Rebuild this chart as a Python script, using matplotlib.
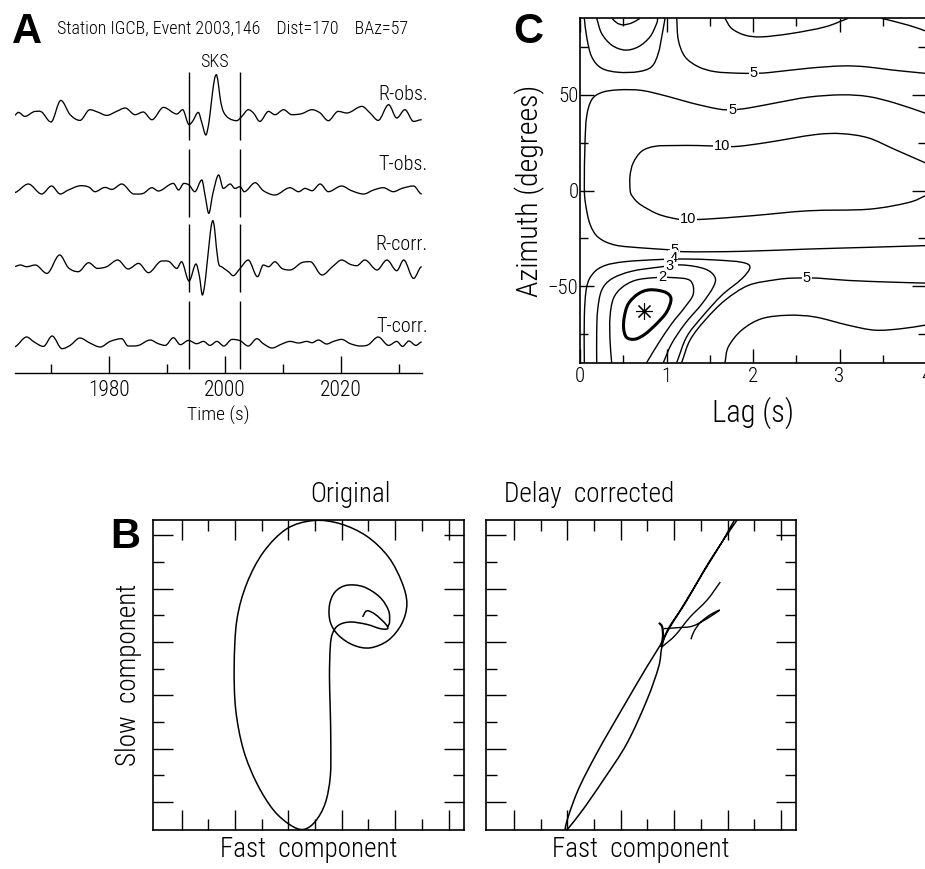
import numpy as np
import matplotlib.pyplot as plt
from matplotlib.ticker import FixedLocator
from matplotlib.path import Path
from matplotlib.patches import PathPatch

plt.rcParams['font.family'] = ['Roboto Condensed', 'DejaVu Sans']
plt.rcParams['font.weight'] = 'light'
plt.rcParams['axes.labelweight'] = 'light'

# ---------------- panel A: waveforms (time s, amplitude arbitrary) ----------------
r_obs_t = [1963.6, 1964.4, 1965.5, 1967.3, 1968.4, 1970.0, 1971.7, 1973.3, 1975.0, 1976.7,
           1978.2, 1979.6, 1981.3, 1982.8, 1984.5, 1985.9, 1987.4, 1989.4, 1991.7, 1992.7,
           1993.8, 1994.4, 1995.4, 1996.0, 1996.7, 1997.1, 1997.4, 1997.8, 1998.2, 1998.5,
           1998.8, 1999.2, 1999.7, 2000.6, 2002.0, 2002.9, 2004.0, 2004.9, 2006.0, 2007.5,
           2008.6, 2010.1, 2011.5, 2013.2, 2015.0, 2016.4, 2017.8, 2019.5, 2021.0, 2023.6,
           2025.0, 2026.4, 2028.2, 2029.6, 2031.0, 2032.5, 2033.9]
r_obs_a = [-1.0, 2.3, -1.7, 3.3, 2.7, -7.3, 14.3, 0.0, -5.7, 5.0,
           2.3, -0.7, 3.3, 6.7, 0.0, 2.7, -5.0, 7.3, 0.7, 5.0,
           -10.0, -6.7, 2.3, -8.0, -20.3, -12.0, 0.0, 20.0, 36.0, 40.0,
           33.0, 15.0, 3.3, -3.3, -6.0, -1.7, 5.0, 1.7, -6.7, 3.3,
           0.0, 5.0, 0.0, 1.0, 5.0, 1.7, -6.0, 3.3, 1.7, 8.3,
           1.7, -5.7, 10.0, -3.3, 5.0, -6.7, -5.0]

t_obs_t = [1963.6, 1966.1, 1968.4, 1970.1, 1971.6, 1973.0, 1975.2, 1976.5, 1977.6, 1979.3,
           1980.5, 1982.2, 1984.3, 1985.9, 1987.4, 1988.5, 1991.1, 1992.0, 1992.9, 1993.8,
           1994.8, 1996.0, 1996.6, 1997.2, 1997.9, 1998.9, 1999.7, 2000.9, 2001.7, 2002.6,
           2003.3, 2005.2, 2006.6, 2008.6, 2011.2, 2012.7, 2013.8, 2015.0, 2016.4, 2017.8,
           2020.1, 2021.8, 2023.9, 2025.6, 2027.3, 2029.0, 2030.5, 2032.5, 2033.9]
t_obs_a = [-1.0, 7.7, -2.3, 5.7, -2.3, 1.7, 6.0, 4.7, 0.0, 4.3,
           2.3, 7.7, -2.3, -1.7, 4.0, 0.7, 8.3, 1.7, 8.3, 6.7,
           0.0, 11.7, -5.0, -21.7, -2.0, 16.7, 3.3, 7.7, 3.3, 5.0,
           0.0, 9.0, 1.0, -3.3, 4.0, 0.0, 3.3, 1.0, 7.7, 0.0,
           5.7, 1.0, -2.3, 1.7, 4.0, 0.0, 3.3, 5.7, -2.3]

r_corr_t = [1963.6, 1964.7, 1965.8, 1967.3, 1969.3, 1971.5, 1973.0, 1974.7, 1976.5, 1978.0,
            1979.6, 1981.5, 1983.3, 1985.1, 1986.8, 1989.1, 1990.4, 1991.7, 1992.5, 1993.8,
            1995.0, 1995.6, 1996.1, 1996.5, 1996.85, 1997.3, 1997.6, 1997.9, 1998.2, 1998.5,
            1998.9, 1999.4, 2000.6, 2001.4, 2002.6, 2004.0, 2005.6, 2006.6, 2007.5, 2008.6,
            2009.8, 2011.2, 2013.2, 2014.7, 2016.7, 2018.7, 2020.1, 2021.6, 2022.7, 2024.1,
            2026.2, 2027.9, 2029.6, 2030.8, 2032.5, 2033.9]
r_corr_a = [0.0, 1.7, 0.0, 1.7, -6.7, 11.7, -1.0, -5.0, 4.0, -1.7,
            0.0, 6.7, -2.3, 3.3, -6.0, 5.7, 5.0, -1.7, 5.0, -14.3,
            2.7, -10.0, -28.3, -18.0, 0.0, 25.0, 40.0, 46.0, 38.0, 20.0,
            3.0, 0.0, -5.0, -9.0, -1.7, 6.7, -10.0, 1.7, 0.0, 5.0,
            -1.7, -3.3, 4.0, 5.0, -8.3, 1.0, 6.7, 2.3, 1.0, 6.7,
            -3.3, 6.7, -4.0, 6.7, -11.7, 0.0]

t_corr_t = [1963.6, 1965.8, 1967.1, 1968.7, 1970.2, 1971.9, 1973.3, 1975.0, 1976.7, 1978.5,
            1980.2, 1982.2, 1983.3, 1985.1, 1987.1, 1988.5, 1989.7, 1991.1, 1992.3, 1993.7,
            1995.1, 1996.3, 1997.4, 1998.6, 1999.8, 2001.2, 2002.6, 2004.0, 2005.5, 2006.6,
            2008.1, 2009.8, 2011.2, 2012.7, 2014.1, 2015.0, 2016.1, 2017.5, 2018.7, 2020.1,
            2021.6, 2023.3, 2024.7, 2026.4, 2028.2, 2029.6, 2030.6, 2031.7, 2032.9, 2033.9]
t_corr_a = [-3.3, 6.7, 1.7, -2.7, 7.7, -5.0, -1.7, 5.7, 0.7, -3.3,
            2.3, 5.0, -2.3, -1.7, 3.7, 0.0, -1.7, 6.0, -1.0, 3.3,
            0.0, 2.3, -1.7, 2.3, -2.3, 4.3, 3.0, -2.3, 5.0, 0.0,
            -4.3, -0.3, 2.3, 0.7, 2.3, 1.0, 3.7, -0.3, 2.3, 4.3,
            0.0, -2.3, -1.0, 6.7, -1.7, 2.3, -2.7, 2.7, -1.7, 1.7]

trace_names = ["R-obs.", "T-obs.", "R-corr.", "T-corr."]
trace_offsets = [258, 181, 106, 29]
label_y = [273, 203, 123, 41]
window = [1993.8, 2002.5]

# ---------------- panel C: contour lines (lag s, azimuth deg) ----------------
conf_lag = [0.512, 0.559, 0.674, 0.809, 0.983, 1.052, 1.002, 0.886, 0.751, 0.636, 0.539, 0.505, 0.512]
conf_az = [-66.1, -59.2, -54.0, -51.9, -53.1, -56.6, -63.5, -69.6, -75.1, -77.7, -76.8, -72.2, -66.1]

c2_lag = [0.366, 0.347, 0.347, 0.385, 0.482, 0.636, 0.848, 1.06, 1.272, 1.31, 1.214, 1.06, 0.905, 0.77]
c2_az = [-90, -78.2, -66.1, -56.6, -50.8, -47.0, -45.6, -45.5, -47.0, -54.0, -60.9, -69.6, -80.0, -90]

c3_lag = [0.193, 0.193, 0.204, 0.25, 0.366, 0.597, 0.905, 1.175, 1.445, 1.56, 1.54, 1.41, 1.214, 1.06, 0.963]
c3_az = [-90, -74.8, -62.6, -52.2, -46.2, -42.2, -40.1, -38.9, -41.0, -45.3, -50.5, -59.2, -69.6, -80.0, -90]

c4_lag = [0.05, 0.05, 0.077, 0.154, 0.289, 0.52, 0.905, 1.214, 1.56, 1.869, 1.965, 1.869, 1.638, 1.41, 1.233, 1.118]
c4_az = [-90, -66.1, -50.5, -43.2, -39.2, -37.2, -36.1, -35.8, -36.3, -37.5, -40.1, -46.2, -54.8, -66.1, -76.5, -90]

c5_mid_lag = [4.0, 3.642, 3.333, 3.025, 2.64, 2.254, 1.946, 1.761, 1.599, 1.291, 1.021, 0.713, 0.443,
              0.25, 0.135, 0.077, 0.058, 0.05, 0.065, 0.116, 0.212, 0.405, 0.713, 1.002, 1.214,
              1.869, 2.64, 3.333, 4.0]
c5_mid_az = [40.3, 45.7, 49.1, 50.0, 48.8, 45.7, 43.1, 42.2, 42.6, 45.7, 49.1, 52.3, 52.6,
             51.2, 47.4, 38.7, 24.9, 2.0, -7.2, -17.6, -24.5, -28.5, -30.0, -30.9, -32.0,
             -31.8, -30.6, -29.7, -28.8]

c5_top_lag = [1.118, 1.137, 1.214, 1.368, 1.561, 1.83, 2.011, 2.177, 2.64, 3.025, 3.295, 3.603, 4.0]
c5_top_az = [90, 78.6, 69.9, 64.7, 62.1, 61.3, 61.3, 61.6, 63.9, 65.1, 64.7, 63.0, 61.2]

c5_bot_lag = [1.175, 1.272, 1.445, 1.676, 1.946, 2.254, 2.447, 2.62, 2.755, 3.1, 3.603, 4.0]
c5_bot_az = [-90, -78.2, -67.8, -57.4, -49.6, -46.7, -45.8, -45.8, -45.8, -47.0, -47.9, -48.4]

c10_lag = [4.0, 3.642, 3.333, 3.025, 2.717, 2.177, 1.83, 1.638, 1.368, 1.098, 0.867, 0.713, 0.616,
           0.578, 0.58, 0.605, 0.694, 0.905, 1.137, 1.253, 1.445, 1.985, 2.64, 3.333, 3.796, 4.0]
c10_az = [14.3, 21.4, 27.5, 29.7, 29.2, 25.2, 23.1, 23.1, 23.5, 23.5, 23.1, 20.5, 14.5,
          7.6, 0.0, -3.0, -7.2, -12.4, -15.0, -15.0, -15.0, -13.2, -10.6, -9.8, -6.3, -2.6]

clr_lag = [1.676, 1.715, 1.869, 2.1, 2.408, 2.717, 3.1, 3.41, 3.72, 4.0]
clr_az = [-90, -81.7, -73.0, -67.0, -65.2, -66.1, -70.4, -73.0, -72.2, -70.3]

ctr1_lag = [1.676, 1.753, 1.907, 2.1, 2.447, 2.832, 3.1]
ctr1_az = [90, 84.7, 81.2, 80.3, 82.1, 85.5, 90]
ctr2_lag = [3.488, 3.796, 4.0]
ctr2_az = [90, 86.4, 83.3]

tl1_lag = [0.37, 0.43, 0.5, 0.6, 0.694]
tl1_az = [90, 87.5, 86.6, 87.6, 90]
tl2_lag = [0.193, 0.25, 0.366, 0.52, 0.674, 0.809, 0.886, 0.898]
tl2_az = [90, 82.1, 76.0, 73.4, 75.1, 80.3, 87.3, 90]
tl3_lag = [0.05, 0.077, 0.135, 0.25, 0.443, 0.674, 0.828, 0.905, 0.952, 0.983]
tl3_az = [90, 80.3, 69.9, 63.9, 61.8, 62.1, 64.7, 71.7, 82.1, 90]

best_lag, best_az = 0.74, -63.0

contour_labels = ["5", "5", "10", "10", "5", "4", "3", "2", "5"]
contour_label_lag = [2.011, 1.761, 1.638, 1.253, 1.098, 1.08, 1.03, 0.952, 2.62]
contour_label_az = [61.3, 42.2, 23.1, -15.0, -31.0, -35.2, -39.5, -45.3, -45.8]

# ---------------- panel B: particle motion ----------------
orig_fast = [7.78, 7.94, 8.25, 8.63, 8.72, 8.44, 7.94, 7.32, 6.88, 6.65, 6.57, 6.54, 6.57, 6.59,
             6.57, 6.38, 6.0, 5.56, 5.07, 4.44, 3.82, 3.32, 3.03, 2.97, 3.07, 3.44, 4.07, 4.94,
             5.94, 6.94, 7.94, 8.75, 9.25, 9.44, 9.25, 8.75, 8.07, 7.44, 6.88, 6.57, 6.54, 6.75,
             7.19, 7.82, 8.42, 8.75, 8.79, 8.72]
orig_slow = [7.94, 8.17, 8.04, 7.69, 7.5, 7.5, 7.66, 7.75, 7.63, 7.31, 6.81, 5.69, 4.44, 3.19,
             1.94, 0.94, 0.25, -0.04, 0.13, 0.69, 1.69, 2.94, 4.44, 6.07, 7.82, 9.19, 10.38, 11.25,
             11.56, 11.44, 10.97, 10.19, 9.25, 8.44, 7.69, 7.07, 6.78, 6.88, 7.25, 7.75, 8.38, 8.88,
             9.13, 9.07, 8.69, 8.19, 7.75, 7.57]

corr_fast = [2.92, 3.35, 4.1, 5.1, 5.98, 6.48, 6.85, 7.48, 8.35, 9.35, 9.6, 9.45, 8.79, 8.1,
             7.35, 6.75, 6.54, 6.42, 5.98, 5.23, 4.35, 3.48, 2.92]
corr_slow = [-0.04, 1.32, 2.82, 4.57, 6.07, 6.88, 7.57, 8.57, 10.07, 11.57, 11.94, 11.9, 10.75, 9.63,
             8.38, 7.44, 6.81, 6.07, 4.82, 3.19, 1.82, 0.57, -0.04]
sq1_fast = [6.54, 7.04, 7.6, 8.23, 8.73]
sq1_slow = [6.81, 7.25, 7.94, 8.57, 9.25]
sq2_fast = [6.6, 7.17, 7.67, 8.17, 8.7, 8.38, 8.0, 7.75, 7.63]
sq2_slow = [7.5, 7.54, 7.59, 7.84, 8.19, 8.04, 7.75, 7.41, 7.1]
hook_fast = [6.43, 6.55, 6.58, 6.5]
hook_slow = [7.72, 7.57, 7.19, 6.81]

W, H = 925, 869
fig = plt.figure(figsize=(W / 100, H / 100), dpi=100)


def box(left, top, right, bottom):
    return [left / W, 1 - bottom / H, (right - left) / W, (bottom - top) / H]


def trace_path(x, y):
    # smooth Bezier drawing through the read points (slope 0 at peaks and troughs)
    x = np.asarray(x, float)
    y = np.asarray(y, float)
    s = np.zeros_like(y)
    for i in range(1, len(y) - 1):
        if (y[i] - y[i - 1]) * (y[i + 1] - y[i]) > 0:
            s[i] = (y[i + 1] - y[i - 1]) / (x[i + 1] - x[i - 1])
    verts, codes = [(x[0], y[0])], [Path.MOVETO]
    for i in range(len(x) - 1):
        h = (x[i + 1] - x[i]) / 3
        verts += [(x[i] + h, y[i] + s[i] * h), (x[i + 1] - h, y[i + 1] - s[i + 1] * h), (x[i + 1], y[i + 1])]
        codes += [Path.CURVE4] * 3
    return Path(verts, codes)


def curve_path(x, y):
    # Catmull-Rom drawing through the read points
    p = np.column_stack([x, y]).astype(float)
    m = np.zeros_like(p)
    m[1:-1] = (p[2:] - p[:-2]) / 2
    if np.allclose(p[0], p[-1]):
        m[0] = m[-1] = (p[1] - p[-2]) / 2
    else:
        m[0] = p[1] - p[0]
        m[-1] = p[-1] - p[-2]
    verts, codes = [tuple(p[0])], [Path.MOVETO]
    for i in range(len(p) - 1):
        verts += [tuple(p[i] + m[i] / 3), tuple(p[i + 1] - m[i + 1] / 3), tuple(p[i + 1])]
        codes += [Path.CURVE4] * 3
    return Path(verts, codes)


def draw(ax, path, lw=1.0):
    ax.add_patch(PathPatch(path, facecolor='none', edgecolor='k', lw=lw))


# ---- A ----
axA = fig.add_axes(box(15, 60, 421.7, 372.7))
traces = [(r_obs_t, r_obs_a), (t_obs_t, t_obs_a), (r_corr_t, r_corr_a), (t_corr_t, t_corr_a)]
for (t, a), off, name, ly in zip(traces, trace_offsets, trace_names, label_y):
    draw(axA, trace_path(t, np.array(a) + off), lw=0.95)
    axA.vlines(window, off - 25, off + 43, color='k', lw=1.0)
    axA.text(2035.0, ly, name, ha='right', va='baseline', fontsize=14.5)
axA.text(np.mean(window) + 0.1, 306, "SKS", ha='center', va='baseline', fontsize=13)
axA.set_xlim(1963.8, 2033.9)
axA.set_ylim(0, 312.7)
for s in ['top', 'left', 'right']:
    axA.spines[s].set_visible(False)
axA.spines['bottom'].set_linewidth(1.0)
axA.set_yticks([])
axA.xaxis.set_major_locator(FixedLocator([1980, 2000, 2020]))
axA.xaxis.set_minor_locator(FixedLocator([1970, 1990, 2010, 2030]))
axA.tick_params(axis='x', which='major', direction='in', length=12, width=1.0, labelsize=15.5, pad=5)
axA.tick_params(axis='x', which='minor', direction='in', length=6.3, width=1.0)
axA.set_xlabel("Time (s)", fontsize=14, labelpad=4)

fig.text(12 / W, 1 - 43 / H, "A", fontsize=30, fontweight='bold', family='Liberation Sans', va='baseline')
fig.text(57 / W, 1 - 33.3 / H, "Station IGCB, Event 2003,146    Dist=170    BAz=57",
         fontsize=13, va='baseline')

# ---- C ----
axC = fig.add_axes(box(580, 18.3, 926, 362.7))
line_sets = [(c2_lag, c2_az), (c3_lag, c3_az), (c4_lag, c4_az), (c5_mid_lag, c5_mid_az),
             (c5_top_lag, c5_top_az), (c5_bot_lag, c5_bot_az), (c10_lag, c10_az),
             (clr_lag, clr_az), (ctr1_lag, ctr1_az), (ctr2_lag, ctr2_az),
             (tl1_lag, tl1_az), (tl2_lag, tl2_az), (tl3_lag, tl3_az)]
for lx, ly in line_sets:
    draw(axC, curve_path(lx, ly), lw=1.0)
draw(axC, curve_path(conf_lag, conf_az), lw=2.2)
axC.plot(best_lag, best_az, marker=(8, 2, 0), color='k', markersize=12, mew=0.8)
for lab, lx, ly in zip(contour_labels, contour_label_lag, contour_label_az):
    axC.text(lx, ly, lab, ha='center', va='center', fontsize=10.5, family='Liberation Sans',
             bbox=dict(facecolor='white', edgecolor='none', pad=0.6))
axC.set_xlim(0, 4)
axC.set_ylim(-90, 90)
axC.xaxis.set_major_locator(FixedLocator([0, 1, 2, 3, 4]))
axC.xaxis.set_minor_locator(FixedLocator([0.5, 1.5, 2.5, 3.5]))
axC.yaxis.set_major_locator(FixedLocator([-50, 0, 50]))
axC.yaxis.set_minor_locator(FixedLocator([-75, -25, 25, 75]))
axC.tick_params(which='both', direction='in', top=True, right=True, width=1.0)
axC.tick_params(which='major', length=10, labelsize=15, pad=3)
axC.tick_params(which='minor', length=5.5)
axC.tick_params(axis='y', which='major', pad=1)
for s in axC.spines.values():
    s.set_linewidth(1.2)
axC.set_xlabel("Lag (s)", fontsize=22, labelpad=8)
axC.set_ylabel("Azimuth (degrees)", fontsize=21.5, labelpad=2)
fig.text(513 / W, 1 - 43 / H, "C", fontsize=30, fontweight='bold', family='Liberation Sans', va='baseline')

# ---- B ----
axB1 = fig.add_axes(box(153.3, 520, 464, 830))
axB2 = fig.add_axes(box(485.7, 520, 796.4, 830))
draw(axB1, curve_path(orig_fast, orig_slow), lw=1.1)
draw(axB2, curve_path(corr_fast, corr_slow), lw=1.1)
draw(axB2, curve_path(sq1_fast, sq1_slow), lw=1.0)
draw(axB2, curve_path(sq2_fast, sq2_slow), lw=1.0)
draw(axB2, curve_path(hook_fast, hook_slow), lw=1.6)
for ax in (axB1, axB2):
    ax.set_xlim(-0.06, 11.58)
    ax.set_ylim(-0.06, 11.58)
    ax.xaxis.set_major_locator(FixedLocator([1, 3, 5, 7, 9, 11]))
    ax.xaxis.set_minor_locator(FixedLocator([2, 4, 6, 8, 10]))
    ax.yaxis.set_major_locator(FixedLocator([1, 3, 5, 7, 9, 11]))
    ax.yaxis.set_minor_locator(FixedLocator([2, 4, 6, 8, 10]))
    ax.tick_params(which='both', direction='in', top=True, right=True, width=1.0,
                   labelbottom=False, labelleft=False)
    ax.tick_params(which='major', length=14.5)
    ax.tick_params(which='minor', length=7.8)
    for s in ax.spines.values():
        s.set_linewidth(1.2)
    ax.set_xlabel("Fast  component", fontsize=19.5, labelpad=4)
axB1.set_ylabel("Slow  component", fontsize=19.5, labelpad=8)
fig.text(350 / W, 1 - 502 / H, "Original", ha='center', va='baseline', fontsize=19.5)
fig.text(589 / W, 1 - 502 / H, "Delay  corrected", ha='center', va='baseline', fontsize=19.5)
fig.text(110 / W, 1 - 548 / H, "B", fontsize=30, fontweight='bold', family='Liberation Sans', va='baseline')

fig.savefig("out.png", dpi=100)
